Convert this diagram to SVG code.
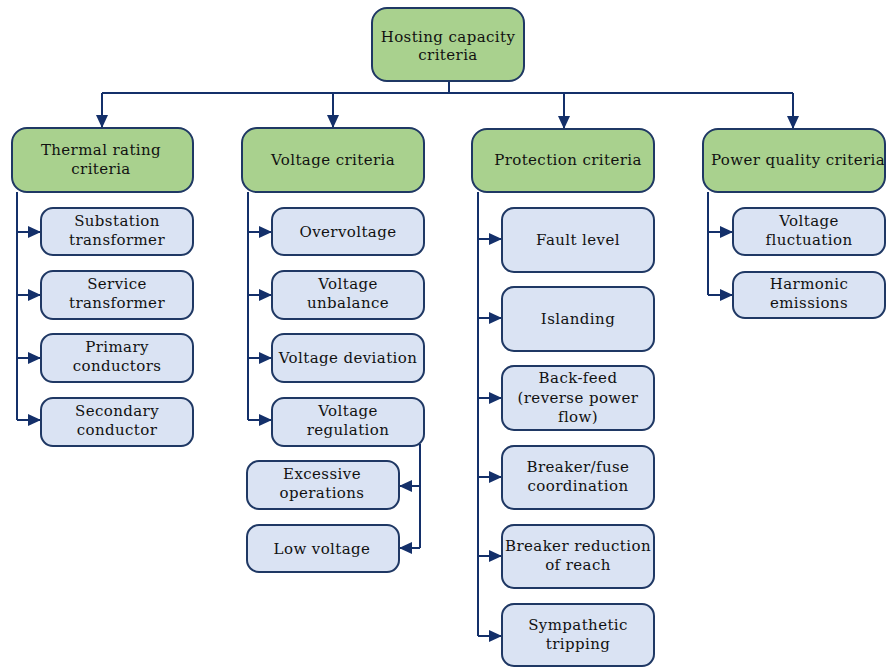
<svg xmlns="http://www.w3.org/2000/svg" width="888" height="667" viewBox="0 0 888 667">
<style>
.hdr{fill:#a9d18e;stroke:#1f3864;stroke-width:2}
.leaf{fill:#dae3f3;stroke:#1f3864;stroke-width:2}
.t text{font-family:"DejaVu Serif","Liberation Serif",serif;font-size:15px;letter-spacing:0.4px;fill:#111;text-anchor:middle}
.c{fill:none;stroke:#14306a;stroke-width:2}
.a{fill:none;stroke:#14306a;stroke-width:2;marker-end:url(#ah)}
</style>
<defs>
<marker id="ah" markerUnits="userSpaceOnUse" markerWidth="14" markerHeight="12" refX="13" refY="6" orient="auto">
<path d="M0,0 L13,6 L0,12 z" fill="#14306a"/>
</marker>
</defs>
<rect width="888" height="667" fill="#fff"/>
<g id="connectors">
<path class="c" d="M449 81 V93 M102 93 H793"/>
<path class="a" d="M102 93 V128"/>
<path class="a" d="M333 93 V128"/>
<path class="a" d="M564 93 V129"/>
<path class="a" d="M793 93 V129"/>
<path class="c" d="M17 192 V420"/>
<path class="a" d="M17 232 H41"/>
<path class="a" d="M17 295 H41"/>
<path class="a" d="M17 358 H41"/>
<path class="a" d="M17 420 H41"/>
<path class="c" d="M248 192 V420"/>
<path class="a" d="M248 232 H272"/>
<path class="a" d="M248 295 H272"/>
<path class="a" d="M248 358 H272"/>
<path class="a" d="M248 420 H272"/>
<path class="c" d="M420 444 V548"/>
<path class="a" d="M420 486 H399"/>
<path class="a" d="M420 548 H399"/>
<path class="c" d="M478 192 V636"/>
<path class="a" d="M478 239 H502"/>
<path class="a" d="M478 318 H502"/>
<path class="a" d="M478 398 H502"/>
<path class="a" d="M478 477 H502"/>
<path class="a" d="M478 556 H502"/>
<path class="a" d="M478 636 H502"/>
<path class="c" d="M708 192 V295"/>
<path class="a" d="M708 232 H733"/>
<path class="a" d="M708 295 H733"/>
</g>
<g class="t">
<g id="root"><rect class="hdr" x="372" y="8" width="152" height="73" rx="15"/><text x="448" y="42">Hosting capacity</text><text x="448" y="60">criteria</text></g>
<g id="thermal"><rect class="hdr" x="12" y="128" width="181" height="64" rx="15"/><text x="101" y="155">Thermal rating</text><text x="101" y="174">criteria</text></g>
<g id="voltage"><rect class="hdr" x="242" y="128" width="182" height="64" rx="15"/><text x="333" y="165">Voltage criteria</text></g>
<g id="protection"><rect class="hdr" x="472" y="129" width="182" height="63" rx="15"/><text x="568" y="165">Protection criteria</text></g>
<g id="powerquality"><rect class="hdr" x="703" y="129" width="182" height="63" rx="15"/><text x="798" y="165">Power quality criteria</text></g>
<g id="substation"><rect class="leaf" x="41" y="208" width="152" height="47" rx="12"/><text x="117" y="226">Substation</text><text x="117" y="245">transformer</text></g>
<g id="service"><rect class="leaf" x="41" y="271" width="152" height="48" rx="12"/><text x="117" y="289">Service</text><text x="117" y="308">transformer</text></g>
<g id="primary"><rect class="leaf" x="41" y="334" width="152" height="48" rx="12"/><text x="117" y="352">Primary</text><text x="117" y="371">conductors</text></g>
<g id="secondary"><rect class="leaf" x="41" y="398" width="152" height="48" rx="12"/><text x="117" y="416">Secondary</text><text x="117" y="435">conductor</text></g>
<g id="overvoltage"><rect class="leaf" x="272" y="208" width="152" height="47" rx="12"/><text x="348" y="237">Overvoltage</text></g>
<g id="unbalance"><rect class="leaf" x="272" y="271" width="152" height="48" rx="12"/><text x="348" y="289">Voltage</text><text x="348" y="308">unbalance</text></g>
<g id="deviation"><rect class="leaf" x="272" y="334" width="152" height="48" rx="12"/><text x="348" y="363">Voltage deviation</text></g>
<g id="regulation"><rect class="leaf" x="272" y="398" width="152" height="48" rx="12"/><text x="348" y="416">Voltage</text><text x="348" y="435">regulation</text></g>
<g id="excessive"><rect class="leaf" x="247" y="461" width="152" height="48" rx="12"/><text x="322" y="479">Excessive</text><text x="322" y="498">operations</text></g>
<g id="lowvoltage"><rect class="leaf" x="247" y="525" width="152" height="47" rx="12"/><text x="322" y="554">Low voltage</text></g>
<g id="fault"><rect class="leaf" x="502" y="208" width="152" height="64" rx="12"/><text x="578" y="245">Fault level</text></g>
<g id="islanding"><rect class="leaf" x="502" y="287" width="152" height="64" rx="12"/><text x="578" y="324">Islanding</text></g>
<g id="backfeed"><rect class="leaf" x="502" y="366" width="152" height="64" rx="12"/><text x="578" y="383">Back-feed</text><text x="578" y="403">(reverse power</text><text x="578" y="422">flow)</text></g>
<g id="breakerfuse"><rect class="leaf" x="502" y="446" width="152" height="63" rx="12"/><text x="578" y="472">Breaker/fuse</text><text x="578" y="491">coordination</text></g>
<g id="reduction"><rect class="leaf" x="502" y="525" width="152" height="63" rx="12"/><text x="578" y="551">Breaker reduction</text><text x="578" y="570">of reach</text></g>
<g id="sympathetic"><rect class="leaf" x="502" y="604" width="152" height="62" rx="12"/><text x="578" y="630">Sympathetic</text><text x="578" y="649">tripping</text></g>
<g id="fluctuation"><rect class="leaf" x="733" y="208" width="152" height="47" rx="12"/><text x="809" y="226">Voltage</text><text x="809" y="245">fluctuation</text></g>
<g id="harmonic"><rect class="leaf" x="733" y="272" width="152" height="46" rx="12"/><text x="809" y="289">Harmonic</text><text x="809" y="308">emissions</text></g>
</g>
</svg>
